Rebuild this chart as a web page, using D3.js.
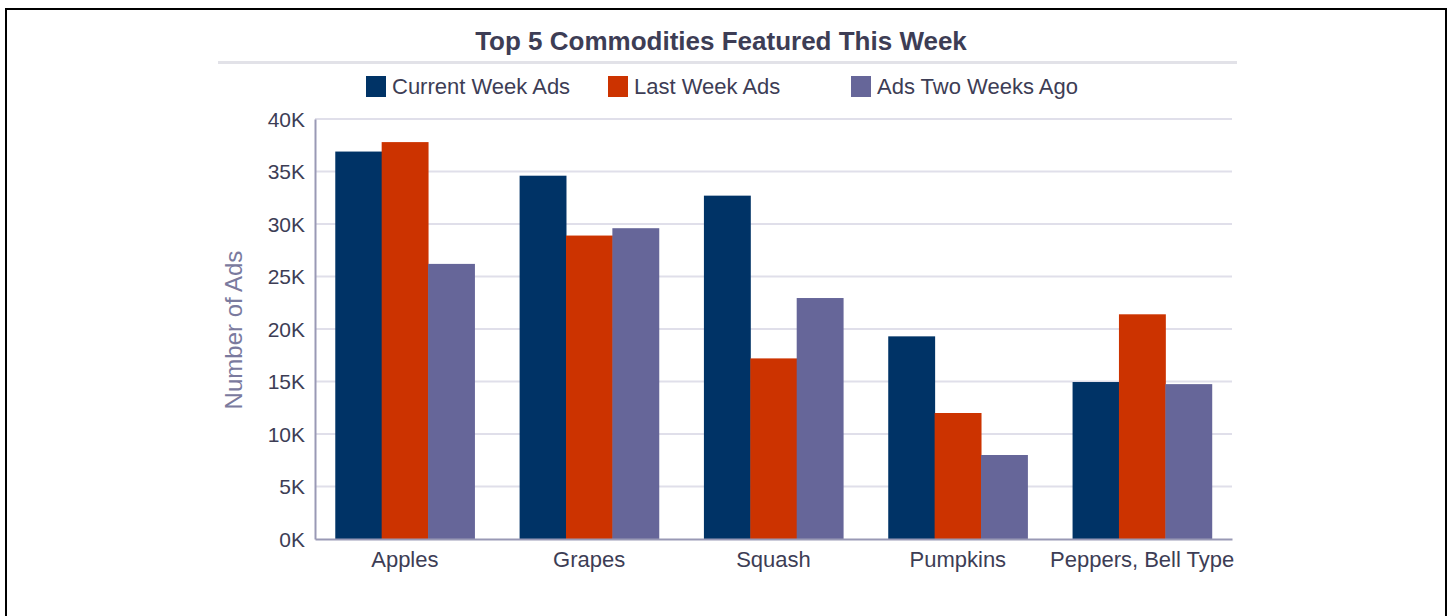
<!DOCTYPE html>
<html>
<head>
<meta charset="utf-8">
<script src="https://cdn.jsdelivr.net/npm/d3@7"></script>
<style>
  body { margin: 0; background: #fff; }
  text { font-family: "Liberation Sans", Arial, sans-serif; }
</style>
</head>
<body>
<div id="chart"></div>
<script>
var categories = ["Apples", "Grapes", "Squash", "Pumpkins", "Peppers, Bell Type"];
var seriesNames = ["Current Week Ads", "Last Week Ads", "Ads Two Weeks Ago"];
var currentWeek = [36900, 34600, 32700, 19300, 14950];
var lastWeek = [37800, 28900, 17200, 12000, 21400];
var twoWeeksAgo = [26200, 29600, 22950, 8000, 14750];
var colors = ["#003366", "#cc3300", "#666699"];
var yTicks = [0, 5000, 10000, 15000, 20000, 25000, 30000, 35000, 40000];

var width = 1450;
var height = 616;
var plotLeft = 315, plotRight = 1232, plotTop = 119, plotBottom = 539;

var svg = d3.select("#chart")
    .append("svg")
    .attr("width", width)
    .attr("height", height);

// frame
svg.append("rect")
    .attr("x", 6)
    .attr("y", 9)
    .attr("width", 1440)
    .attr("height", 640)
    .style("fill", "none")
    .style("stroke", "#000")
    .style("stroke-width", 2);

// title
svg.append("text")
    .attr("x", 721)
    .attr("y", 50)
    .attr("text-anchor", "middle")
    .style("font-size", "26px")
    .style("font-weight", "bold")
    .style("fill", "#3d3d55")
    .text("Top 5 Commodities Featured This Week");

svg.append("rect")
    .attr("x", 218)
    .attr("y", 61)
    .attr("width", 1019)
    .attr("height", 3)
    .style("fill", "#e2e2e8");

// legend
var legendX = [366, 608, 851];
var legend = svg.selectAll(".legend")
    .data(seriesNames)
    .enter().append("g")
    .attr("class", "legend")
    .attr("transform", function(d, i) { return "translate(" + legendX[i] + ",76)"; });

legend.append("rect")
    .attr("width", 20)
    .attr("height", 21)
    .style("fill", function(d, i) { return colors[i]; });

legend.append("text")
    .attr("x", 26)
    .attr("y", 18)
    .style("font-size", "22px")
    .style("fill", "#3d3d55")
    .text(function(d) { return d; });

// scales
var x0 = d3.scaleBand()
    .domain(categories)
    .range([plotLeft, plotRight])
    .paddingInner(0.245)
    .paddingOuter(0.11);

var x1 = d3.scaleBand()
    .domain(d3.range(seriesNames.length))
    .range([0, x0.bandwidth()]);

var y = d3.scaleLinear()
    .domain([0, 40000])
    .range([plotBottom, plotTop]);

// grid
svg.append("g")
    .selectAll("line")
    .data(yTicks.slice(1))
    .enter().append("line")
    .attr("x1", plotLeft)
    .attr("x2", plotRight)
    .attr("y1", function(d) { return y(d); })
    .attr("y2", function(d) { return y(d); })
    .style("stroke", "#e0dfea")
    .style("stroke-width", 2);

// bars
var rows = categories.map(function(c, i) {
    return [currentWeek[i], lastWeek[i], twoWeeksAgo[i]];
});

var groups = svg.selectAll(".group")
    .data(rows)
    .enter().append("g")
    .attr("class", "group")
    .attr("transform", function(d, i) { return "translate(" + x0(categories[i]) + ",0)"; });

groups.selectAll("rect")
    .data(function(d) { return d; })
    .enter().append("rect")
    .attr("x", function(d, i) { return x1(i); })
    .attr("y", function(d) { return y(d); })
    .attr("width", x1.bandwidth() + 0.5)
    .attr("height", function(d) { return plotBottom - y(d); })
    .style("fill", function(d, i) { return colors[i]; });

// axes
var yAxis = svg.append("g")
    .attr("transform", "translate(" + plotLeft + ",0)")
    .call(d3.axisLeft(y).tickValues(yTicks).tickSize(0).tickPadding(10)
        .tickFormat(function(d) { return (d / 1000) + "K"; }));
yAxis.select(".domain").style("stroke", "#9999b5").style("stroke-width", 2);
yAxis.selectAll("text")
    .style("font-size", "21px")
    .style("fill", "#3d3d55")
    .attr("dy", "0.35em");

var xAxis = svg.append("g")
    .attr("transform", "translate(0," + plotBottom + ")")
    .call(d3.axisBottom(x0).tickSize(0).tickPadding(12));
xAxis.select(".domain").style("stroke", "#9999b5").style("stroke-width", 2);
xAxis.selectAll("text")
    .style("font-size", "22px")
    .style("fill", "#3d3d55");

svg.append("text")
    .attr("transform", "rotate(-90)")
    .attr("x", -330)
    .attr("y", 242)
    .attr("text-anchor", "middle")
    .style("font-size", "24px")
    .style("fill", "#7a7a9e")
    .text("Number of Ads");
</script>
</body>
</html>
